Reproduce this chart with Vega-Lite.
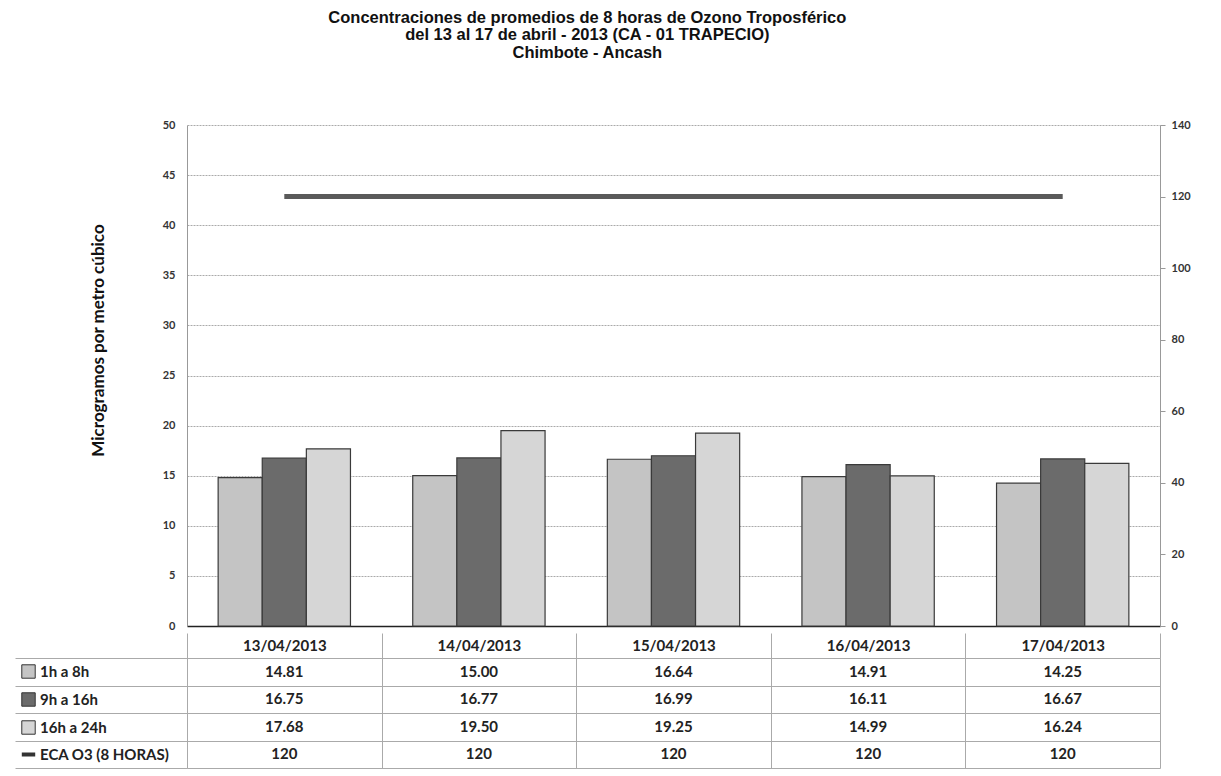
{
  "$schema": "https://vega.github.io/schema/vega-lite/v6.json",
  "background": "white",
  "padding": {"left": 14, "top": 9, "right": 5, "bottom": 0},
  "title": {
    "text": ["Concentraciones de promedios de 8 horas de Ozono Troposférico", "del 13 al 17 de abril - 2013 (CA - 01 TRAPECIO)", "Chimbote - Ancash"],
    "font": "Liberation Sans", "fontSize": 16.5, "fontWeight": "bold", "lineHeight": 17.5, "color": "#111",
    "anchor": "middle", "offset": 58, "dx": -15
  },
  "config": {
    "view": {"stroke": null},
    "font": "Lato"
  },
  "datasets": {
    "d": [
      {"date": "13/04/2013", "series": "1h a 8h", "value": 14.81},
      {"date": "13/04/2013", "series": "9h a 16h", "value": 16.75},
      {"date": "13/04/2013", "series": "16h a 24h", "value": 17.68},
      {"date": "13/04/2013", "series": "ECA O3 (8 HORAS)", "value": 120},
      {"date": "14/04/2013", "series": "1h a 8h", "value": 15.00},
      {"date": "14/04/2013", "series": "9h a 16h", "value": 16.77},
      {"date": "14/04/2013", "series": "16h a 24h", "value": 19.50},
      {"date": "14/04/2013", "series": "ECA O3 (8 HORAS)", "value": 120},
      {"date": "15/04/2013", "series": "1h a 8h", "value": 16.64},
      {"date": "15/04/2013", "series": "9h a 16h", "value": 16.99},
      {"date": "15/04/2013", "series": "16h a 24h", "value": 19.25},
      {"date": "15/04/2013", "series": "ECA O3 (8 HORAS)", "value": 120},
      {"date": "16/04/2013", "series": "1h a 8h", "value": 14.91},
      {"date": "16/04/2013", "series": "9h a 16h", "value": 16.11},
      {"date": "16/04/2013", "series": "16h a 24h", "value": 14.99},
      {"date": "16/04/2013", "series": "ECA O3 (8 HORAS)", "value": 120},
      {"date": "17/04/2013", "series": "1h a 8h", "value": 14.25},
      {"date": "17/04/2013", "series": "9h a 16h", "value": 16.67},
      {"date": "17/04/2013", "series": "16h a 24h", "value": 16.24},
      {"date": "17/04/2013", "series": "ECA O3 (8 HORAS)", "value": 120}
    ]
  },
  "spacing": 1,
  "resolve": {
    "scale": {"x": "independent", "y": "independent", "color": "independent", "shape": "independent"},
    "axis": {"x": "independent", "y": "independent"},
    "legend": {"color": "independent", "shape": "independent"}
  },
  "vconcat": [
    {
      "width": 973,
      "height": 501,
      "data": {"name": "d"},
      "layer": [
        {
          "transform": [{"filter": "datum.series != 'ECA O3 (8 HORAS)'"}],
          "mark": {"type": "bar", "stroke": "#3a3a3a", "strokeWidth": 1.2},
          "encoding": {
            "x": {
              "field": "date", "type": "nominal", "sort": null,
              "scale": {"paddingInner": 0.32, "paddingOuter": 0.16},
              "axis": {"labels": false, "ticks": false, "title": null, "domainColor": "#222", "domainWidth": 1.5}
            },
            "xOffset": {"field": "series", "type": "nominal", "sort": ["1h a 8h", "9h a 16h", "16h a 24h"], "scale": {"paddingInner": 0, "paddingOuter": 0}},
            "y": {
              "field": "value", "type": "quantitative",
              "scale": {"domain": [0, 50], "nice": false},
              "axis": {
                "values": [0, 5, 10, 15, 20, 25, 30, 35, 40, 45, 50],
                "title": "Microgramos por metro cúbico",
                "titleFont": "Lato", "titleFontSize": 17, "titleFontWeight": "bold", "titleColor": "#111",
                "titlePadding": 55, "titleY": 215,
                "grid": true, "gridColor": "#aaaaaa", "gridDash": [2, 1], "gridWidth": 1,
                "ticks": false, "domainColor": "#999999",
                "labelFont": "Lato", "labelFontSize": 11, "labelFontWeight": "bold", "labelColor": "#333",
                "labelPadding": 12
              }
            },
            "color": {
              "field": "series", "type": "nominal",
              "scale": {"domain": ["1h a 8h", "9h a 16h", "16h a 24h"], "range": ["#c4c4c4", "#6b6b6b", "#d6d6d6"]},
              "legend": null
            }
          }
        },
        {
          "transform": [{"filter": "datum.series == 'ECA O3 (8 HORAS)'"}],
          "mark": {"type": "line", "color": "#5a5a5a", "strokeWidth": 5},
          "encoding": {
            "x": {"field": "date", "type": "nominal", "sort": null},
            "y": {
              "field": "value", "type": "quantitative",
              "scale": {"domain": [0, 140], "nice": false},
              "axis": {
                "orient": "right", "title": null,
                "values": [0, 20, 40, 60, 80, 100, 120, 140],
                "grid": false, "ticks": true, "tickSize": 5, "tickColor": "#999999", "domainColor": "#999999",
                "labelFont": "Lato", "labelFontSize": 11, "labelFontWeight": "bold", "labelColor": "#333",
                "labelPadding": 6
              }
            }
          }
        }
      ],
      "resolve": {"scale": {"y": "independent"}}
    },
    {
      "width": 973,
      "height": 110,
      "data": {"name": "d"},
      "encoding": {
        "x": {
          "field": "date", "type": "nominal", "sort": null,
          "scale": {"paddingInner": 0, "paddingOuter": 0},
          "axis": {
            "orient": "top", "title": null, "labelAngle": 0,
            "tickBand": "extent", "tickSize": 25, "tickColor": "#aaaaaa",
            "grid": true, "gridColor": "#aaaaaa", "domain": true, "domainColor": "#aaaaaa",
            "labelFont": "Lato", "labelFontSize": 15, "labelColor": "#222", "labelFontWeight": "bold",
            "labelPadding": -20
          }
        },
        "y": {
          "field": "series", "type": "nominal",
          "sort": ["1h a 8h", "9h a 16h", "16h a 24h", "ECA O3 (8 HORAS)"],
          "axis": {
            "title": null, "labels": false,
            "tickBand": "extent", "tickSize": 172, "tickColor": "#aaaaaa",
            "grid": true, "gridColor": "#aaaaaa", "domainColor": "#aaaaaa"
          }
        }
      },
      "layer": [
        {
          "mark": {"type": "point", "filled": true, "opacity": 0},
          "encoding": {
            "color": {
              "field": "series", "type": "nominal",
              "scale": {"domain": ["1h a 8h", "9h a 16h", "16h a 24h", "ECA O3 (8 HORAS)"], "range": ["#c4c4c4", "#6b6b6b", "#d6d6d6", "#444444"]},
              "legend": {
                "title": null, "orient": "none", "legendX": -166, "legendY": 6, "padding": 0,
                "labelFont": "Lato", "labelFontSize": 15, "labelFontWeight": "bold", "labelColor": "#222",
                "rowPadding": 9, "symbolSize": 180, "symbolOpacity": 1, "labelOffset": 4, "labelLimit": 300,
                "encode": {
                  "symbols": {
                    "update": {
                      "opacity": {"value": 1},
                      "stroke": {"value": "#333333"},
                      "strokeWidth": {"signal": "datum.value == 'ECA O3 (8 HORAS)' ? 4 : 1"}
                    }
                  }
                }
              }
            },
            "shape": {
              "field": "series", "type": "nominal",
              "scale": {"domain": ["1h a 8h", "9h a 16h", "16h a 24h", "ECA O3 (8 HORAS)"], "range": ["square", "square", "square", "stroke"]},
              "legend": {
                "title": null, "orient": "none", "legendX": -166, "legendY": 6, "padding": 0,
                "labelFont": "Lato", "labelFontSize": 15, "labelFontWeight": "bold", "labelColor": "#222",
                "rowPadding": 9, "symbolSize": 180, "symbolOpacity": 1, "labelOffset": 4, "labelLimit": 300,
                "encode": {
                  "symbols": {
                    "update": {
                      "opacity": {"value": 1},
                      "stroke": {"value": "#333333"},
                      "strokeWidth": {"signal": "datum.value == 'ECA O3 (8 HORAS)' ? 4 : 1"}
                    }
                  }
                }
              }
            }
          }
        },
        {
          "transform": [{"filter": "datum.series != 'ECA O3 (8 HORAS)'"}],
          "mark": {"type": "text", "font": "Lato", "fontSize": 15, "fontWeight": "bold", "color": "#222"},
          "encoding": {"text": {"field": "value", "type": "quantitative", "format": ".2f"}}
        },
        {
          "transform": [{"filter": "datum.series == 'ECA O3 (8 HORAS)'"}],
          "mark": {"type": "text", "font": "Lato", "fontSize": 15, "fontWeight": "bold", "color": "#222"},
          "encoding": {"text": {"field": "value", "type": "quantitative", "format": "d"}}
        }
      ]
    }
  ]
}
